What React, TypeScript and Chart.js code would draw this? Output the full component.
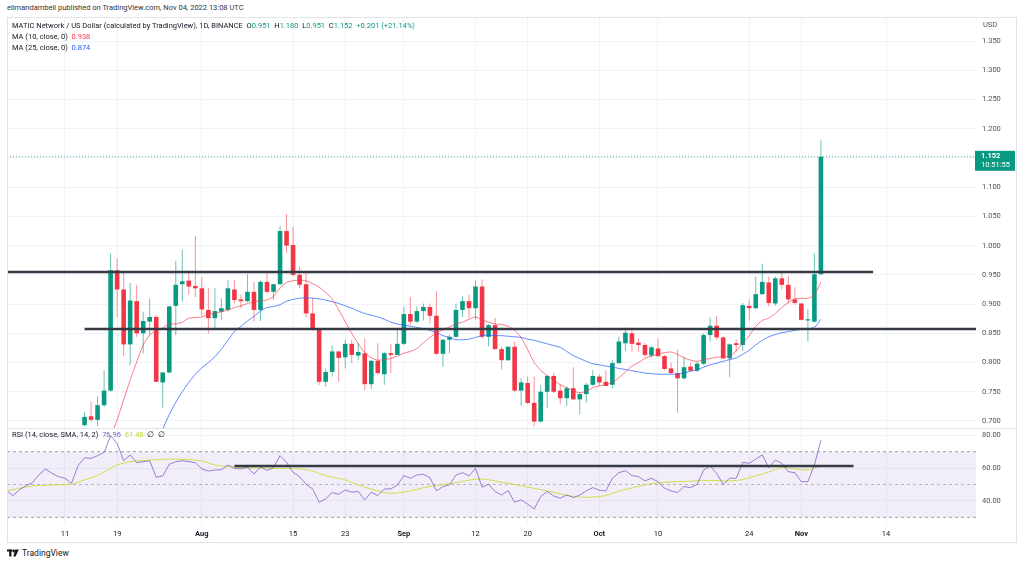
import React, { useEffect, useRef } from 'react';
import { Chart, registerables } from 'chart.js';

Chart.register(...registerables);

// ---------------- data ----------------
const firstCandleDate = '2022-07-14';

const opens = [
  0.693, 0.708, 0.702, 0.727, 0.752, 0.958, 0.925, 0.831, 0.905, 0.850,
  0.870, 0.878, 0.766, 0.783, 0.897, 0.934, 0.940, 0.931, 0.927, 0.890,
  0.876, 0.887, 0.890, 0.925, 0.908, 0.905, 0.921, 0.890, 0.938, 0.921,
  0.934, 1.025, 1.001, 0.950, 0.934, 0.884, 0.856, 0.767, 0.784, 0.819,
  0.809, 0.832, 0.812, 0.816, 0.763, 0.803, 0.780, 0.816, 0.813, 0.832,
  0.883, 0.870, 0.888, 0.895, 0.880, 0.815, 0.839, 0.844, 0.890, 0.905,
  0.893, 0.930, 0.844, 0.864, 0.823, 0.804, 0.827, 0.752, 0.765, 0.731,
  0.699, 0.750, 0.777, 0.752, 0.739, 0.756, 0.737, 0.746, 0.762, 0.776,
  0.767, 0.762, 0.799, 0.833, 0.850, 0.834, 0.830, 0.812, 0.824, 0.811,
  0.790, 0.782, 0.773, 0.793, 0.786, 0.798, 0.847, 0.863, 0.843, 0.807,
  0.833, 0.830, 0.897, 0.893, 0.917, 0.937, 0.901, 0.944, 0.933, 0.908,
  0.901, 0.872, 0.870, 0.951,
];
const highs = [
  0.716, 0.733, 0.742, 0.787, 0.986, 0.978, 0.953, 0.936, 0.933, 0.887,
  0.909, 0.881, 0.784, 0.897, 0.974, 0.993, 0.958, 1.017, 0.946, 0.927,
  0.927, 0.910, 0.941, 0.941, 0.916, 0.951, 0.938, 0.941, 0.955, 0.935,
  1.034, 1.054, 1.032, 0.964, 0.955, 0.910, 0.857, 0.790, 0.829, 0.819,
  0.839, 0.839, 0.833, 0.841, 0.804, 0.833, 0.819, 0.832, 0.856, 0.895,
  0.912, 0.896, 0.901, 0.901, 0.922, 0.840, 0.847, 0.901, 0.913, 0.916,
  0.941, 0.942, 0.866, 0.876, 0.827, 0.828, 0.836, 0.773, 0.776, 0.776,
  0.762, 0.779, 0.782, 0.763, 0.759, 0.792, 0.750, 0.765, 0.787, 0.779,
  0.787, 0.804, 0.844, 0.860, 0.859, 0.841, 0.833, 0.828, 0.841, 0.813,
  0.800, 0.822, 0.810, 0.799, 0.801, 0.850, 0.877, 0.879, 0.845, 0.833,
  0.840, 0.902, 0.908, 0.947, 0.969, 0.947, 0.947, 0.955, 0.948, 0.929,
  0.902, 0.891, 0.986, 1.180,
];
const lows = [
  0.690, 0.699, 0.691, 0.724, 0.750, 0.878, 0.811, 0.796, 0.844, 0.816,
  0.847, 0.767, 0.723, 0.782, 0.847, 0.904, 0.916, 0.912, 0.880, 0.850,
  0.859, 0.873, 0.887, 0.901, 0.893, 0.904, 0.870, 0.871, 0.918, 0.907,
  0.933, 0.988, 0.947, 0.927, 0.878, 0.855, 0.762, 0.759, 0.776, 0.767,
  0.790, 0.799, 0.804, 0.753, 0.755, 0.779, 0.762, 0.782, 0.813, 0.830,
  0.864, 0.868, 0.872, 0.867, 0.813, 0.793, 0.816, 0.843, 0.878, 0.876,
  0.873, 0.841, 0.828, 0.822, 0.788, 0.803, 0.750, 0.726, 0.729, 0.691,
  0.698, 0.722, 0.748, 0.729, 0.726, 0.736, 0.712, 0.731, 0.760, 0.760,
  0.760, 0.756, 0.798, 0.820, 0.819, 0.819, 0.810, 0.809, 0.809, 0.787,
  0.780, 0.714, 0.771, 0.784, 0.784, 0.796, 0.836, 0.839, 0.806, 0.775,
  0.819, 0.820, 0.872, 0.891, 0.916, 0.896, 0.897, 0.925, 0.901, 0.899,
  0.872, 0.836, 0.868, 0.951,
];
const closes = [
  0.707, 0.702, 0.727, 0.752, 0.958, 0.925, 0.831, 0.906, 0.850, 0.871,
  0.878, 0.767, 0.783, 0.896, 0.933, 0.939, 0.930, 0.927, 0.891, 0.876,
  0.888, 0.893, 0.927, 0.907, 0.905, 0.921, 0.890, 0.938, 0.921, 0.934,
  1.025, 1.000, 0.950, 0.933, 0.884, 0.856, 0.767, 0.784, 0.819, 0.808,
  0.832, 0.813, 0.818, 0.763, 0.803, 0.782, 0.816, 0.813, 0.832, 0.883,
  0.870, 0.888, 0.895, 0.880, 0.815, 0.839, 0.844, 0.890, 0.905, 0.893,
  0.930, 0.844, 0.864, 0.823, 0.804, 0.827, 0.752, 0.766, 0.731, 0.699,
  0.750, 0.777, 0.750, 0.739, 0.756, 0.737, 0.746, 0.762, 0.777, 0.766,
  0.760, 0.799, 0.836, 0.851, 0.832, 0.830, 0.813, 0.826, 0.811, 0.789,
  0.782, 0.773, 0.792, 0.786, 0.798, 0.847, 0.863, 0.843, 0.807, 0.831,
  0.830, 0.898, 0.893, 0.917, 0.938, 0.902, 0.944, 0.933, 0.908, 0.902,
  0.873, 0.874, 0.951, 1.152,
];

// moving averages, aligned with the candles (null = not on the chart)
const ma10 = [
  null, null, null, null,
  0.672, 0.702, 0.736, 0.770, 0.801, 0.830, 0.847, 0.856, 0.859, 0.866,
  0.866, 0.869, 0.876, 0.877, 0.878, 0.883, 0.884, 0.887, 0.890, 0.894,
  0.897, 0.901, 0.904, 0.906, 0.907, 0.913, 0.928, 0.937, 0.940, 0.941,
  0.940, 0.935, 0.929, 0.920, 0.909, 0.890, 0.870, 0.850, 0.832, 0.817,
  0.808, 0.804, 0.805, 0.807, 0.811, 0.816, 0.819, 0.824, 0.834, 0.843,
  0.851, 0.856, 0.861, 0.866, 0.869, 0.874, 0.878, 0.873, 0.869, 0.866,
  0.865, 0.862, 0.855, 0.843, 0.822, 0.800, 0.787, 0.777, 0.770, 0.762,
  0.757, 0.752, 0.748, 0.751, 0.757, 0.760, 0.762, 0.766, 0.774, 0.784,
  0.794, 0.800, 0.807, 0.811, 0.814, 0.817, 0.818, 0.814, 0.808, 0.804,
  0.802, 0.805, 0.807, 0.809, 0.810, 0.811, 0.820, 0.833, 0.846, 0.862,
  0.872, 0.876, 0.884, 0.894, 0.903, 0.909, 0.910, 0.910, 0.915, 0.938,
];
const ma25 = [
  null, null, null, null, null, null, null, null, null, null, null,
  0.662, 0.686, 0.711, 0.732, 0.750, 0.766, 0.780, 0.791, 0.800, 0.810,
  0.823, 0.838, 0.853, 0.862, 0.871, 0.879, 0.888, 0.894, 0.896, 0.899,
  0.905, 0.908, 0.910, 0.911, 0.910, 0.909, 0.907, 0.904, 0.901, 0.897,
  0.893, 0.888, 0.884, 0.881, 0.878, 0.874, 0.869, 0.866, 0.864, 0.862,
  0.860, 0.858, 0.855, 0.851, 0.846, 0.843, 0.839, 0.839, 0.840, 0.843,
  0.846, 0.847, 0.846, 0.846, 0.845, 0.844, 0.843, 0.840, 0.838, 0.835,
  0.832, 0.829, 0.826, 0.819, 0.812, 0.807, 0.802, 0.798, 0.796, 0.794,
  0.792, 0.790, 0.788, 0.786, 0.784, 0.782, 0.781, 0.780, 0.780, 0.780,
  0.780, 0.782, 0.785, 0.788, 0.792, 0.796, 0.799, 0.802, 0.805, 0.808,
  0.814, 0.821, 0.830, 0.838, 0.844, 0.848, 0.851, 0.853, 0.855, 0.857,
  0.858, 0.860, 0.874,
];

// RSI pane, one value per day starting at rsiFirstDate
const rsiFirstDate = '2022-07-02';
const rsiValues = [
  46.3, 43.2, 46.7, 49.3, 51.1, 55.8, 59.5, 56.8, 54.8,
  53.8, 50.7, 61.5, 66.3, 65.9, 67.6, 69.6, 79.7, 75.1, 64.5,
  68.0, 63.3, 63.9, 64.5, 54.4, 55.2, 62.3, 63.9, 64.5, 63.9,
  63.3, 59.5, 58.2, 58.8, 59.0, 61.9, 59.9, 59.5, 60.5, 56.4,
  60.7, 58.6, 60.3, 67.6, 63.5, 57.4, 54.8, 50.1, 47.3, 39.2,
  41.2, 45.1, 44.0, 46.7, 45.3, 45.7, 40.6, 45.3, 43.2, 47.3,
  47.3, 49.7, 55.4, 53.8, 55.8, 56.2, 54.2, 46.1, 48.7, 49.7,
  55.8, 57.2, 55.2, 59.9, 48.3, 50.1, 45.7, 43.6, 46.3, 39.2,
  40.6, 38.0, 35.1, 42.6, 45.7, 43.0, 41.6, 43.6, 42.0, 43.6,
  46.1, 48.1, 46.5, 46.1, 53.8, 57.2, 58.4, 55.4, 54.8, 52.2,
  53.8, 51.7, 47.7, 46.1, 45.1, 48.7, 48.1, 50.1, 58.8, 61.3,
  56.8, 50.1, 53.8, 53.8, 63.5, 62.9, 65.5, 68.0, 60.3, 64.9,
  62.9, 57.8, 57.2, 51.7, 51.7, 61.9, 76.96,
];
// RSI-based moving average, read at the days where it could be read (null = not read)
const rsiMaValues = [
  46.1, null, 47.7, null, 49.1, null, null, 49.7, null, null,
  50.3, null, 52.8, null, 55.5, null, null, 61.9, null, 63.9,
  null, null, 64.9, null, null, 65.5, null, 65.3, null, null,
  64.3, null, 61.9, null, 60.9, null, 60.3, null, null, null,
  null, 59.9, null, null, null, 59.5, null, 58.2, null, 55.4,
  null, null, 52.8, null, 49.7, null, null, 46.1, null, 44.6,
  null, null, 46.1, null, 48.0, null, 49.3, null, null, 51.1,
  null, 52.7, null, 53.4, 52.9, null, 51.4, null, null, 49.3,
  null, 47.6, null, null, 45.3, null, 43.4, null, null, 42.2,
  null, null, 43.2, 44.6, null, 47.1, 47.8, null, 49.9, null,
  null, 51.3, null, 51.7, null, null, 52.2, null, 52.5, null,
  null, 52.2, null, 53.0, null, 55.3, null, 57.6, null, 60.3,
  null, 59.5, null, 58.9, 60.0, 61.48,
];

// drawn horizontal lines
const resistanceLevel = 0.955;
const resistanceFrom = '2022-07-02';
const resistanceTo = '2022-11-12';
const supportLevel = 0.8574;
const supportFrom = '2022-07-14';
const supportTo = '2022-12-05';
const rsiLineLevel = 61.2;
const rsiLineFrom = '2022-08-06';
const rsiLineTo = '2022-11-09';

// axes
const axisEpoch = '2022-07-11';
const viewStart = -8.9;
const viewEnd = 139.8;
const tickDates = ['2022-07-11', '2022-07-19', '2022-08-01', '2022-08-15', '2022-08-23', '2022-09-01', '2022-09-12', '2022-09-20', '2022-10-01', '2022-10-10', '2022-10-24', '2022-11-01', '2022-11-14'];
const tickLabels = ['11', '19', 'Aug', '15', '23', 'Sep', '12', '20', 'Oct', '10', '24', 'Nov', '14'];
const priceTicks = [0.70, 0.75, 0.80, 0.85, 0.90, 0.95, 1.00, 1.05, 1.10, 1.15, 1.20, 1.25, 1.30, 1.35];
const rsiTicks = [40, 60, 80];
const rsiBands = [70, 50, 30];
const countdownText = '10:51:55';

// ---------------- helpers ----------------
const FONT = "Roboto, 'Noto Sans', sans-serif";
const UP = '#089981';
const DOWN = '#f23645';
const GRID = '#f0f3fa';
const DAY = 86400000;
const dayOf = (iso: string) => (Date.parse(iso + 'T00:00:00Z') - Date.parse(axisEpoch + 'T00:00:00Z')) / DAY;

const candleStart = dayOf(firstCandleDate);
const candleDays = opens.map((_, i) => candleStart + i);
const rsiStart = dayOf(rsiFirstDate);
const rsiDays = rsiValues.map((_, i) => rsiStart + i);
const tickDays = tickDates.map(dayOf);
const isUp = (i: number) => closes[i] >= opens[i];

const last = closes.length - 1;
const lastClose = closes[last];
const change = closes[last] - closes[last - 1];
const changePct = (change / closes[last - 1]) * 100;

const PRICE_PANE = 411;
const RSI_PANE = 96;

function buildConfig(): any {
  const hline = (level: number, from: number, to: number) => [
    { x: from, y: level },
    { x: to, y: level },
  ];
  const datasets: any[] = [
    {
      type: 'bar', label: 'wicks', yAxisID: 'y', order: 10, grouped: false,
      data: candleDays.map((d, i) => ({ x: d, y: [lows[i], highs[i]] })),
      backgroundColor: candleDays.map((_, i) => (isUp(i) ? 'rgba(8,153,129,0.6)' : 'rgba(242,54,69,0.55)')),
      barThickness: 1, borderWidth: 0, inflateAmount: 0,
    },
    {
      type: 'bar', label: 'bodies', yAxisID: 'y', order: 9, grouped: false,
      data: candleDays.map((d, i) => ({ x: d, y: [opens[i], closes[i]] })),
      backgroundColor: candleDays.map((_, i) => (isUp(i) ? UP : DOWN)),
      barThickness: 4.6, borderWidth: 0, inflateAmount: 0, minBarLength: 1,
    },
    {
      type: 'line', label: 'price line', yAxisID: 'y', order: 8,
      data: hline(lastClose, viewStart, viewEnd),
      borderColor: 'rgba(8,153,129,0.75)', borderWidth: 1, borderDash: [1, 2], pointRadius: 0,
    },
    {
      type: 'line', label: 'MA 25', yAxisID: 'y', order: 5,
      data: candleDays.map((d, i) => ({ x: d, y: ma25[i] })),
      borderColor: 'rgba(41,98,255,0.75)', borderWidth: 1, pointRadius: 0, tension: 0.2,
    },
    {
      type: 'line', label: 'MA 10', yAxisID: 'y', order: 4,
      data: candleDays.map((d, i) => ({ x: d, y: ma10[i] })),
      borderColor: 'rgba(242,54,69,0.65)', borderWidth: 1, pointRadius: 0, tension: 0.2,
    },
    {
      type: 'line', label: 'resistance', yAxisID: 'y', order: 0,
      data: hline(resistanceLevel, dayOf(resistanceFrom), dayOf(resistanceTo)),
      borderColor: '#363a45', borderWidth: 2.5, pointRadius: 0,
    },
    {
      type: 'line', label: 'support', yAxisID: 'y', order: 0,
      data: hline(supportLevel, dayOf(supportFrom), dayOf(supportTo)),
      borderColor: '#363a45', borderWidth: 2.5, pointRadius: 0,
    },
    // RSI pane
    {
      type: 'line', label: 'upper band', yAxisID: 'rsi', order: 12,
      data: hline(rsiBands[0], viewStart, viewEnd),
      borderColor: 'rgba(120,123,134,0.75)', borderWidth: 1, borderDash: [3, 3], pointRadius: 0,
      fill: '+1', backgroundColor: 'rgba(126,87,194,0.1)',
    },
    {
      type: 'line', label: 'lower band', yAxisID: 'rsi', order: 12,
      data: hline(rsiBands[2], viewStart, viewEnd),
      borderColor: 'rgba(120,123,134,0.75)', borderWidth: 1, borderDash: [3, 3], pointRadius: 0,
    },
    {
      type: 'line', label: 'middle band', yAxisID: 'rsi', order: 11,
      data: hline(rsiBands[1], viewStart, viewEnd),
      borderColor: 'rgba(120,123,134,0.5)', borderWidth: 1, borderDash: [3, 3], pointRadius: 0,
    },
    {
      type: 'line', label: 'RSI MA', yAxisID: 'rsi', order: 3, spanGaps: true,
      data: rsiDays.map((d, i) => ({ x: d, y: rsiMaValues[i] })),
      borderColor: 'rgba(205,220,57,0.9)', borderWidth: 1, pointRadius: 0, tension: 0.3,
    },
    {
      type: 'line', label: 'RSI', yAxisID: 'rsi', order: 2,
      data: rsiDays.map((d, i) => ({ x: d, y: rsiValues[i] })),
      borderColor: 'rgba(126,87,194,0.75)', borderWidth: 1, pointRadius: 0,
    },
    {
      type: 'line', label: 'RSI level', yAxisID: 'rsi', order: 0,
      data: hline(rsiLineLevel, dayOf(rsiLineFrom), dayOf(rsiLineTo)),
      borderColor: '#363a45', borderWidth: 2.5, pointRadius: 0,
    },
  ];

  const zeroPad = (s: any) => {
    s.paddingTop = 0; s.paddingBottom = 0; s.paddingLeft = 0; s.paddingRight = 0;
  };

  const chrome = {
    id: 'chrome',
    afterDraw(chart: any) {
      const { ctx, chartArea, scales } = chart;
      const y = scales.y;
      ctx.save();
      ctx.strokeStyle = '#e0e3eb';
      ctx.lineWidth = 1;
      const sy = Math.round(scales.rsi.top) + 0.5;
      ctx.beginPath();
      ctx.moveTo(0, sy);
      ctx.lineTo(chart.width, sy);
      ctx.stroke();
      const py = y.getPixelForValue(lastClose);
      ctx.fillStyle = UP;
      ctx.fillRect(chartArea.right - 1, py - 6, 40, 20);
      ctx.fillStyle = '#ffffff';
      ctx.textBaseline = 'middle';
      ctx.textAlign = 'left';
      ctx.font = `bold 7.5px ${FONT}`;
      ctx.fillText(lastClose.toFixed(3), chartArea.right + 5, py - 0.5);
      ctx.font = `7.5px ${FONT}`;
      ctx.fillText(countdownText, chartArea.right + 5, py + 8.5);
      ctx.restore();
    },
  };

  return {
    type: 'bar',
    data: { datasets },
    plugins: [chrome],
    options: {
      animation: false,
      responsive: false,
      events: [],
      layout: { padding: 0, autoPadding: false },
      plugins: { legend: { display: false }, tooltip: { enabled: false } },
      scales: {
        x: {
          type: 'linear', min: viewStart, max: viewEnd, offset: false,
          grid: { color: GRID, drawTicks: false, tickLength: 0, offset: false },
          border: { display: false },
          afterBuildTicks: (s: any) => { s.ticks = tickDays.map((v) => ({ value: v })); },
          afterFit: (s: any) => { s.height = 19; zeroPad(s); },
          ticks: {
            autoSkip: false, maxRotation: 0, padding: 6, color: '#131722',
            font: (c: any) => {
              const i = c.tick ? tickDays.indexOf(c.tick.value) : -1;
              const bold = i >= 0 && /[A-Za-z]/.test(tickLabels[i]);
              return { family: FONT, size: 7.5, weight: bold ? 'bold' : 'normal' };
            },
            callback: (v: any) => {
              const i = tickDays.indexOf(v);
              return i >= 0 ? tickLabels[i] : '';
            },
          },
        },
        y: {
          type: 'linear', position: 'right', stack: 'panes', stackWeight: PRICE_PANE,
          min: 0.688, max: 1.3912, beginAtZero: false,
          grid: { color: GRID, drawTicks: false, tickLength: 0 },
          border: { display: false },
          afterBuildTicks: (s: any) => { s.ticks = priceTicks.map((v) => ({ value: v })); },
          afterFit: (s: any) => { s.width = 40; zeroPad(s); },
          ticks: {
            padding: 6, color: '#50535e', font: { family: FONT, size: 7.5 },
            callback: (v: any) => Number(v).toFixed(3),
          },
        },
        rsi: {
          type: 'linear', position: 'right', stack: 'panes', stackWeight: RSI_PANE,
          min: 25.9, max: 84.45, beginAtZero: false,
          grid: { color: GRID, drawTicks: false, tickLength: 0 },
          border: { display: false },
          afterBuildTicks: (s: any) => { s.ticks = rsiTicks.map((v) => ({ value: v })); },
          afterFit: (s: any) => { s.width = 40; zeroPad(s); },
          ticks: {
            padding: 6, color: '#50535e', font: { family: FONT, size: 7.5 },
            callback: (v: any) => Number(v).toFixed(2),
          },
        },
      },
    },
  };
}

const small: React.CSSProperties = { position: 'absolute', fontSize: 7.5, lineHeight: '10px', whiteSpace: 'pre' };

export default function App() {
  const ref = useRef<HTMLCanvasElement>(null);
  useEffect(() => {
    const chart = new Chart(ref.current as HTMLCanvasElement, buildConfig());
    return () => chart.destroy();
  }, []);

  const fmt3 = (v: number) => v.toFixed(3);
  return (
    <div style={{ position: 'fixed', left: 0, top: 0, width: 1024, height: 565, background: '#ffffff', fontFamily: FONT, color: '#131722', overflow: 'hidden' }}>
      <div style={{ ...small, left: 7, top: 3, color: '#333' }}>elimandambell published on TradingView.com, Nov 04, 2022 13:08 UTC</div>
      <canvas ref={ref} width={1009} height={526} style={{ position: 'absolute', left: 7, top: 17, width: 1009, height: 526 }} />
      <div style={{ position: 'absolute', left: 7, top: 17, width: 1010, height: 526, border: '1px solid #e0e3eb', boxSizing: 'border-box', pointerEvents: 'none' }} />
      <div style={{ ...small, left: 12, top: 21 }}>
        <span>MATIC Network / US Dollar (calculated by TradingView), 1D, BINANCE  </span>
        <span>O</span><span style={{ color: UP }}>{fmt3(opens[last])}</span><span>  H</span><span style={{ color: UP }}>{fmt3(highs[last])}</span>
        <span>  L</span><span style={{ color: UP }}>{fmt3(lows[last])}</span><span>  C</span><span style={{ color: UP }}>{fmt3(closes[last])}</span>
        <span style={{ color: UP }}>{`  +${fmt3(change)} (+${changePct.toFixed(2)}%)`}</span>
      </div>
      <div style={{ ...small, left: 12, top: 31.5 }}>
        <span>MA (10, close, 0)  </span><span style={{ color: DOWN }}>{fmt3(ma10[ma10.length - 1] as number)}</span>
      </div>
      <div style={{ ...small, left: 12, top: 42.5 }}>
        <span>MA (25, close, 0)  </span><span style={{ color: '#2962ff' }}>{fmt3(ma25[ma25.length - 1] as number)}</span>
      </div>
      <div style={{ ...small, left: 983, top: 20, color: '#50535e' }}>USD</div>
      <div style={{ ...small, left: 12, top: 430 }}>
        <span>RSI (14, close, SMA, 14, 2)  </span>
        <span style={{ color: '#7e57c2' }}>{rsiValues[rsiValues.length - 1].toFixed(2)}</span>
        <span>  </span>
        <span style={{ color: '#c6d630' }}>{(rsiMaValues[rsiMaValues.length - 1] as number).toFixed(2)}</span>
        <span>  ∅  ∅</span>
      </div>
      <div style={{ position: 'absolute', left: 7, top: 548, display: 'flex', alignItems: 'center', gap: 3 }}>
        <svg width="12" height="8" viewBox="0 0 12 8">
          <rect x="0" y="0.5" width="5" height="2" fill="#131722" />
          <rect x="2.2" y="0.5" width="2.2" height="7" fill="#131722" />
          <circle cx="6.6" cy="2" r="1.4" fill="#131722" />
          <polygon points="8.2,0.5 11.8,0.5 8.6,7.5 6.4,7.5" fill="#131722" />
        </svg>
        <span style={{ fontSize: 8.5, lineHeight: '10px', color: '#131722' }}>TradingView</span>
      </div>
    </div>
  );
}
